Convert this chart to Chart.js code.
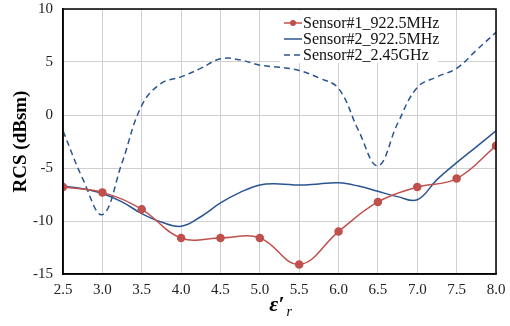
<!DOCTYPE html>
<html>

<head>
    <title>RCS vs permittivity</title>
    <script src="https://cdn.jsdelivr.net/npm/chart.js"></script>
    <style>
        body {
            margin: 0;
            background: #ffffff;
        }

        .chart-container {
            width: 510px;
            height: 326px;
        }
    </style>
</head>

<body>
    <div class="chart-container">
        <canvas id="rcsChart"></canvas>
    </div>

    <script>
        // Sensor#1 at 922.5MHz (measured points, step 0.5)
        var epsR1 = [2.5, 3.0, 3.5, 4.0, 4.5, 5.0, 5.5, 6.0, 6.5, 7.0, 7.5, 8.0];
        var rcsSensor1 = [-6.8, -7.3, -8.9, -11.6, -11.6, -11.6, -14.1, -11.0, -8.2, -6.8, -6.0, -2.9];

        // Sensor#2 curves (step 0.25)
        var epsR2 = [2.5, 2.75, 3.0, 3.25, 3.5, 3.75, 4.0, 4.25, 4.5, 4.75, 5.0, 5.25,
            5.5, 5.75, 6.0, 6.25, 6.5, 6.75, 7.0, 7.25, 7.5, 7.75, 8.0];
        var rcsSensor2_922 = [-6.7, -6.95, -7.4, -8.2, -9.3, -10.1, -10.5, -9.6, -8.3, -7.3, -6.6, -6.5,
            -6.6, -6.5, -6.4, -6.7, -7.2, -7.7, -8.0, -6.1, -4.5, -3.0, -1.5];
        var rcsSensor2_245 = [-1.5, -6.0, -9.4, -4.5, 0.9, 3.0, 3.6, 4.4, 5.3, 5.2, 4.7, 4.5,
            4.2, 3.5, 2.5, -1.4, -4.8, -0.8, 2.6, 3.6, 4.4, 6.1, 7.8];

        var yTicks = [-15, -10, -5, 0, 5, 10];

        var redColor = '#c0504d';
        var blueColor = '#2b5592';
        var serif = "'Liberation Serif', 'Times New Roman', serif";

        function toPoints(xs, ys) {
            var pts = [];
            for (var i = 0; i < xs.length; i++) {
                pts.push({ x: xs[i], y: ys[i] });
            }
            return pts;
        }

        // legend box drawn inside the plot area, top right
        var boxLegend = {
            id: 'boxLegend',
            beforeDatasetsDraw: function (chart) {
                var ctx = chart.ctx;
                var a = chart.chartArea;
                ctx.save();
                ctx.fillStyle = '#ffffff';
                ctx.fillRect(a.right - 216, a.top + 2, 158, 52);
                ctx.restore();
            },
            afterDatasetsDraw: function (chart) {
                var ctx = chart.ctx;
                var a = chart.chartArea;
                var x0 = a.right - 212;
                var rows = [a.top + 14, a.top + 30, a.top + 46];
                ctx.save();
                ctx.font = '16px ' + serif;
                ctx.textBaseline = 'middle';
                chart.data.datasets.forEach(function (ds, i) {
                    var y = rows[i];
                    ctx.strokeStyle = ds.borderColor;
                    ctx.lineWidth = 1.5;
                    ctx.setLineDash(ds.borderDash || []);
                    ctx.beginPath();
                    ctx.moveTo(x0, y);
                    ctx.lineTo(x0 + 18, y);
                    ctx.stroke();
                    ctx.setLineDash([]);
                    if (ds.pointRadius > 0) {
                        ctx.fillStyle = ds.pointBackgroundColor;
                        ctx.beginPath();
                        ctx.arc(x0 + 9, y, 3, 0, Math.PI * 2);
                        ctx.fill();
                    }
                    ctx.fillStyle = '#111111';
                    ctx.fillText(ds.label, x0 + 19, y + 1);
                });
                ctx.restore();
            },
            afterDraw: function (chart) {
                var ctx = chart.ctx;
                var a = chart.chartArea;
                ctx.save();
                // frame around plot
                ctx.strokeStyle = '#000000';
                ctx.lineWidth = 1.5;
                ctx.strokeRect(a.left, a.top, a.right - a.left, a.bottom - a.top);
                // x axis title: epsilon prime with subscript r
                var cx = (a.left + a.right) / 2 - 3;
                ctx.fillStyle = '#000000';
                ctx.textBaseline = 'alphabetic';
                ctx.font = 'bold italic 22px ' + serif;
                ctx.textAlign = 'right';
                ctx.fillText('\u03b5\u2032', cx + 8, 311);
                ctx.font = 'italic 14px ' + serif;
                ctx.textAlign = 'left';
                ctx.fillText('r', cx + 10, 316);
                ctx.restore();
            }
        };

        var ctx = document.getElementById('rcsChart').getContext('2d');
        var rcsChart = new Chart(ctx, {
            type: 'line',
            data: {
                datasets: [{
                    label: 'Sensor#1_922.5MHz',
                    data: toPoints(epsR1, rcsSensor1),
                    borderColor: redColor,
                    backgroundColor: redColor,
                    pointBackgroundColor: redColor,
                    pointBorderColor: redColor,
                    pointRadius: 3.5,
                    borderWidth: 1.5,
                    tension: 0.4
                }, {
                    label: 'Sensor#2_922.5MHz',
                    data: toPoints(epsR2, rcsSensor2_922),
                    borderColor: blueColor,
                    backgroundColor: blueColor,
                    pointRadius: 0,
                    borderWidth: 1.5,
                    tension: 0.4
                }, {
                    label: 'Sensor#2_2.45GHz',
                    data: toPoints(epsR2, rcsSensor2_245),
                    borderColor: blueColor,
                    backgroundColor: blueColor,
                    borderDash: [6, 4],
                    pointRadius: 0,
                    borderWidth: 1.5,
                    tension: 0.4
                }]
            },
            options: {
                responsive: true,
                maintainAspectRatio: false,
                animation: false,
                layout: {
                    padding: { left: 10, right: 0, top: 0, bottom: 0 }
                },
                plugins: {
                    legend: { display: false },
                    tooltip: { enabled: false }
                },
                scales: {
                    x: {
                        type: 'linear',
                        min: 2.5,
                        max: 8.0,
                        afterFit: function (scale) {
                            scale.height = 52;
                            scale.paddingLeft = 0;
                            scale.paddingRight = 14;
                        },
                        ticks: {
                            stepSize: 0.5,
                            padding: 7,
                            color: '#222222',
                            font: { family: serif, size: 15 },
                            callback: function (v) { return Number(v).toFixed(1); }
                        },
                        grid: { color: '#d0d0d0', drawTicks: false },
                        border: { color: '#000000', width: 1.5 }
                    },
                    y: {
                        min: -15,
                        max: 10,
                        afterFit: function (scale) {
                            scale.width = 53;
                            scale.paddingTop = 9;
                            scale.paddingBottom = 0;
                        },
                        afterBuildTicks: function (scale) {
                            scale.ticks = yTicks.map(function (v) { return { value: v }; });
                        },
                        ticks: {
                            padding: 10,
                            color: '#222222',
                            font: { family: serif, size: 15 }
                        },
                        title: {
                            display: true,
                            text: 'RCS (dBsm)',
                            color: '#000000',
                            padding: { top: 0, bottom: 2 },
                            font: { family: serif, size: 19, weight: 'bold' }
                        },
                        grid: { color: '#d0d0d0', drawTicks: false },
                        border: { color: '#000000', width: 1.5 }
                    }
                }
            },
            plugins: [boxLegend]
        });
    </script>
</body>

</html>
